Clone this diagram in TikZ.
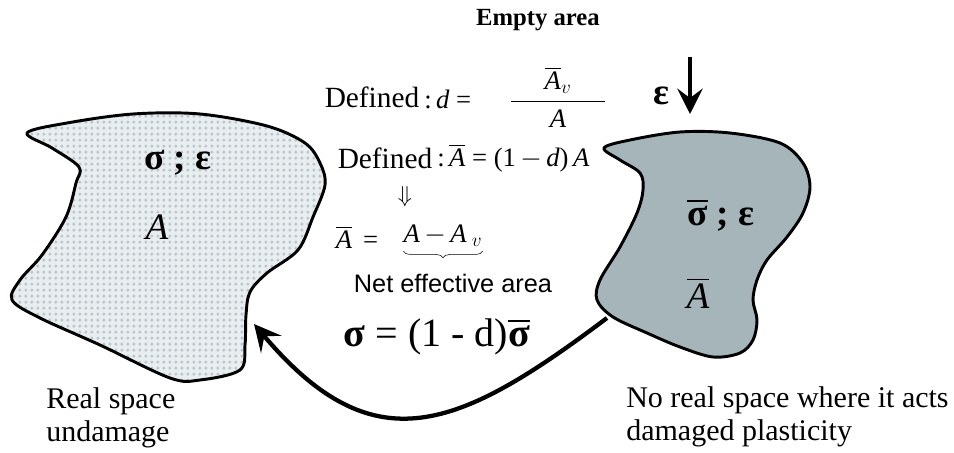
\documentclass[tikz,border=0pt]{standalone}
\usepackage{amsmath}
\usepackage{fontspec}
\setmainfont{Liberation Serif}
\newfontfamily\arialfont{Liberation Sans}
\usetikzlibrary{positioning, arrows.meta, patterns.meta, decorations.pathreplacing}
\definecolor{dotblue}{RGB}{232,238,240}
\definecolor{dotgray}{RGB}{186,197,202}
\definecolor{damgray}{RGB}{166,181,186}

\newcommand{\itA}{\mbox{\itshape A}}
\newcommand{\itd}{\mbox{\itshape d}}
\newcommand{\bsig}{\mbox{\bfseries σ}}

\tikzdeclarepattern{
  name=bigdots, type=uncolored,
  bounding box={(0pt,0pt) and (4.4pt,4.4pt)},
  tile size={(4.4pt,4.4pt)},
  code={\fill (2.2pt,2.2pt) circle (1.3pt);}
}

\begin{document}
\begin{tikzpicture}[x=0.75pt, y=-0.75pt,
  blob/.style={draw=black, line width=2.2pt, line join=round},
  lbl/.style={font=\fontsize{22.5}{25}\selectfont, align=left,
              anchor=west, inner sep=0pt},
  defn/.style={font=\fontsize{22}{24}\selectfont, inner sep=0pt},
  eqn/.style={font=\fontsize{20}{22}\selectfont, inner sep=0pt},
  greek/.style={font=\fontsize{28}{30}\selectfont\bfseries, inner sep=0pt},
  itbig/.style={font=\fontsize{28}{30}\selectfont\itshape, inner sep=0pt},
  arr/.style={-{Stealth[length=20pt, width=20pt, inset=8pt]}, line width=3.2pt},
  ubrace/.style={decorate, decoration={brace, mirror, amplitude=5pt}, thin}
]
\useasboundingbox (0,0) rectangle (954,453);

% Real (undamaged) body
\draw[blob, pattern=bigdots, pattern color=dotgray,
      preaction={fill=dotblue}]
  plot[smooth cycle, tension=0.55] coordinates {
    (27,133) (67,123) (133,114) (200,114) (267,126) (305,143)
    (320,163) (325,185) (313,217) (298,250) (267,273) (250,292)
    (246,315) (245,345) (240,370) (200,380) (170,378) (100,345)
    (40,318) (12,300) (20,280) (42,255) (66,217) (76,183)
    (79,167) (52,148)};

% Fictive (damaged) body
\draw[blob, fill=damgray]
  plot[smooth cycle, tension=0.55] coordinates {
    (604,148) (630,140) (680,132) (730,133) (780,143) (803,163)
    (810,187) (803,213) (787,237) (767,260) (757,280) (753,300)
    (757,320) (753,340) (740,353) (713,357) (680,347) (647,333)
    (613,317) (597,300) (600,280) (620,247) (637,213) (643,190)
    (640,173) (620,160)};

% Body labels
\node[greek] (lsig) at (178,163) {σ ; ε};
\node[itbig] (lA) at (157,227) {A};
\node[greek] (rsig) at (721,215) {$\overline{\bsig}$ ; ε};
\node[itbig] (rA) at (698,293) {$\overline{\itA}$};

% Definitions
\node[font=\fontsize{18.5}{20}\selectfont\bfseries] (empty) at (538,20) {Empty area};
\node[defn] (def1) at (372,97) {Defined};
\node[eqn, anchor=west] (eqd) at (424,97)
    {:\,\itd\ = \hspace{24pt}$\dfrac{\makebox[70pt]{$\overline{\itA}_{v}$}}{\itA}$};
\node[defn] (def2) at (385,158) {Defined};
\node[eqn, anchor=west] (eqbar) at (437,158)
    {:\,$\overline{\itA}$ = (1\,$-$\,\itd)\,\itA};
\node[eqn, font=\fontsize{18}{20}\selectfont] (impl) at (405,197) {$\Downarrow$};
\node[eqn] (abar) at (357,237) {$\overline{\itA}$ \,=};
\node[eqn] (net) at (443,236) {\itA\,$-$\,\itA$_{\;v}$};
\draw[ubrace] ([yshift=-3pt]net.south west) -- ([yshift=-3pt]net.south east);
\node[font=\arialfont\fontsize{19}{22}\selectfont] (netlbl) at (453,283)
    {Net effective area};

% Strain arrow
\node[greek] (eps) at (661,96) {ε};
\coordinate (epstop) at (690,57);
\coordinate (epstip) at (690,114);
\draw[-{Stealth[length=19pt, width=19pt, inset=7pt]}, line width=3.5pt]
  (epstop) -- (epstip);

% Stress relation
\node[font=\fontsize{30}{32}\selectfont] (rel) at (437,337)
    {\bsig\ = (1 - d)$\overline{\bsig}$};
\coordinate (arrstart) at (607,318);
\coordinate (arrend) at (254,324);
\draw[arr] (arrstart) .. controls (458,430) and (374,466) .. (arrend);

% Captions
\node[lbl] (real) at (46,418) {Real space\\undamage};
\node[lbl] (noreal) at (626,417) {No real space where it acts\\damaged plasticity};

\end{tikzpicture}
\end{document}
